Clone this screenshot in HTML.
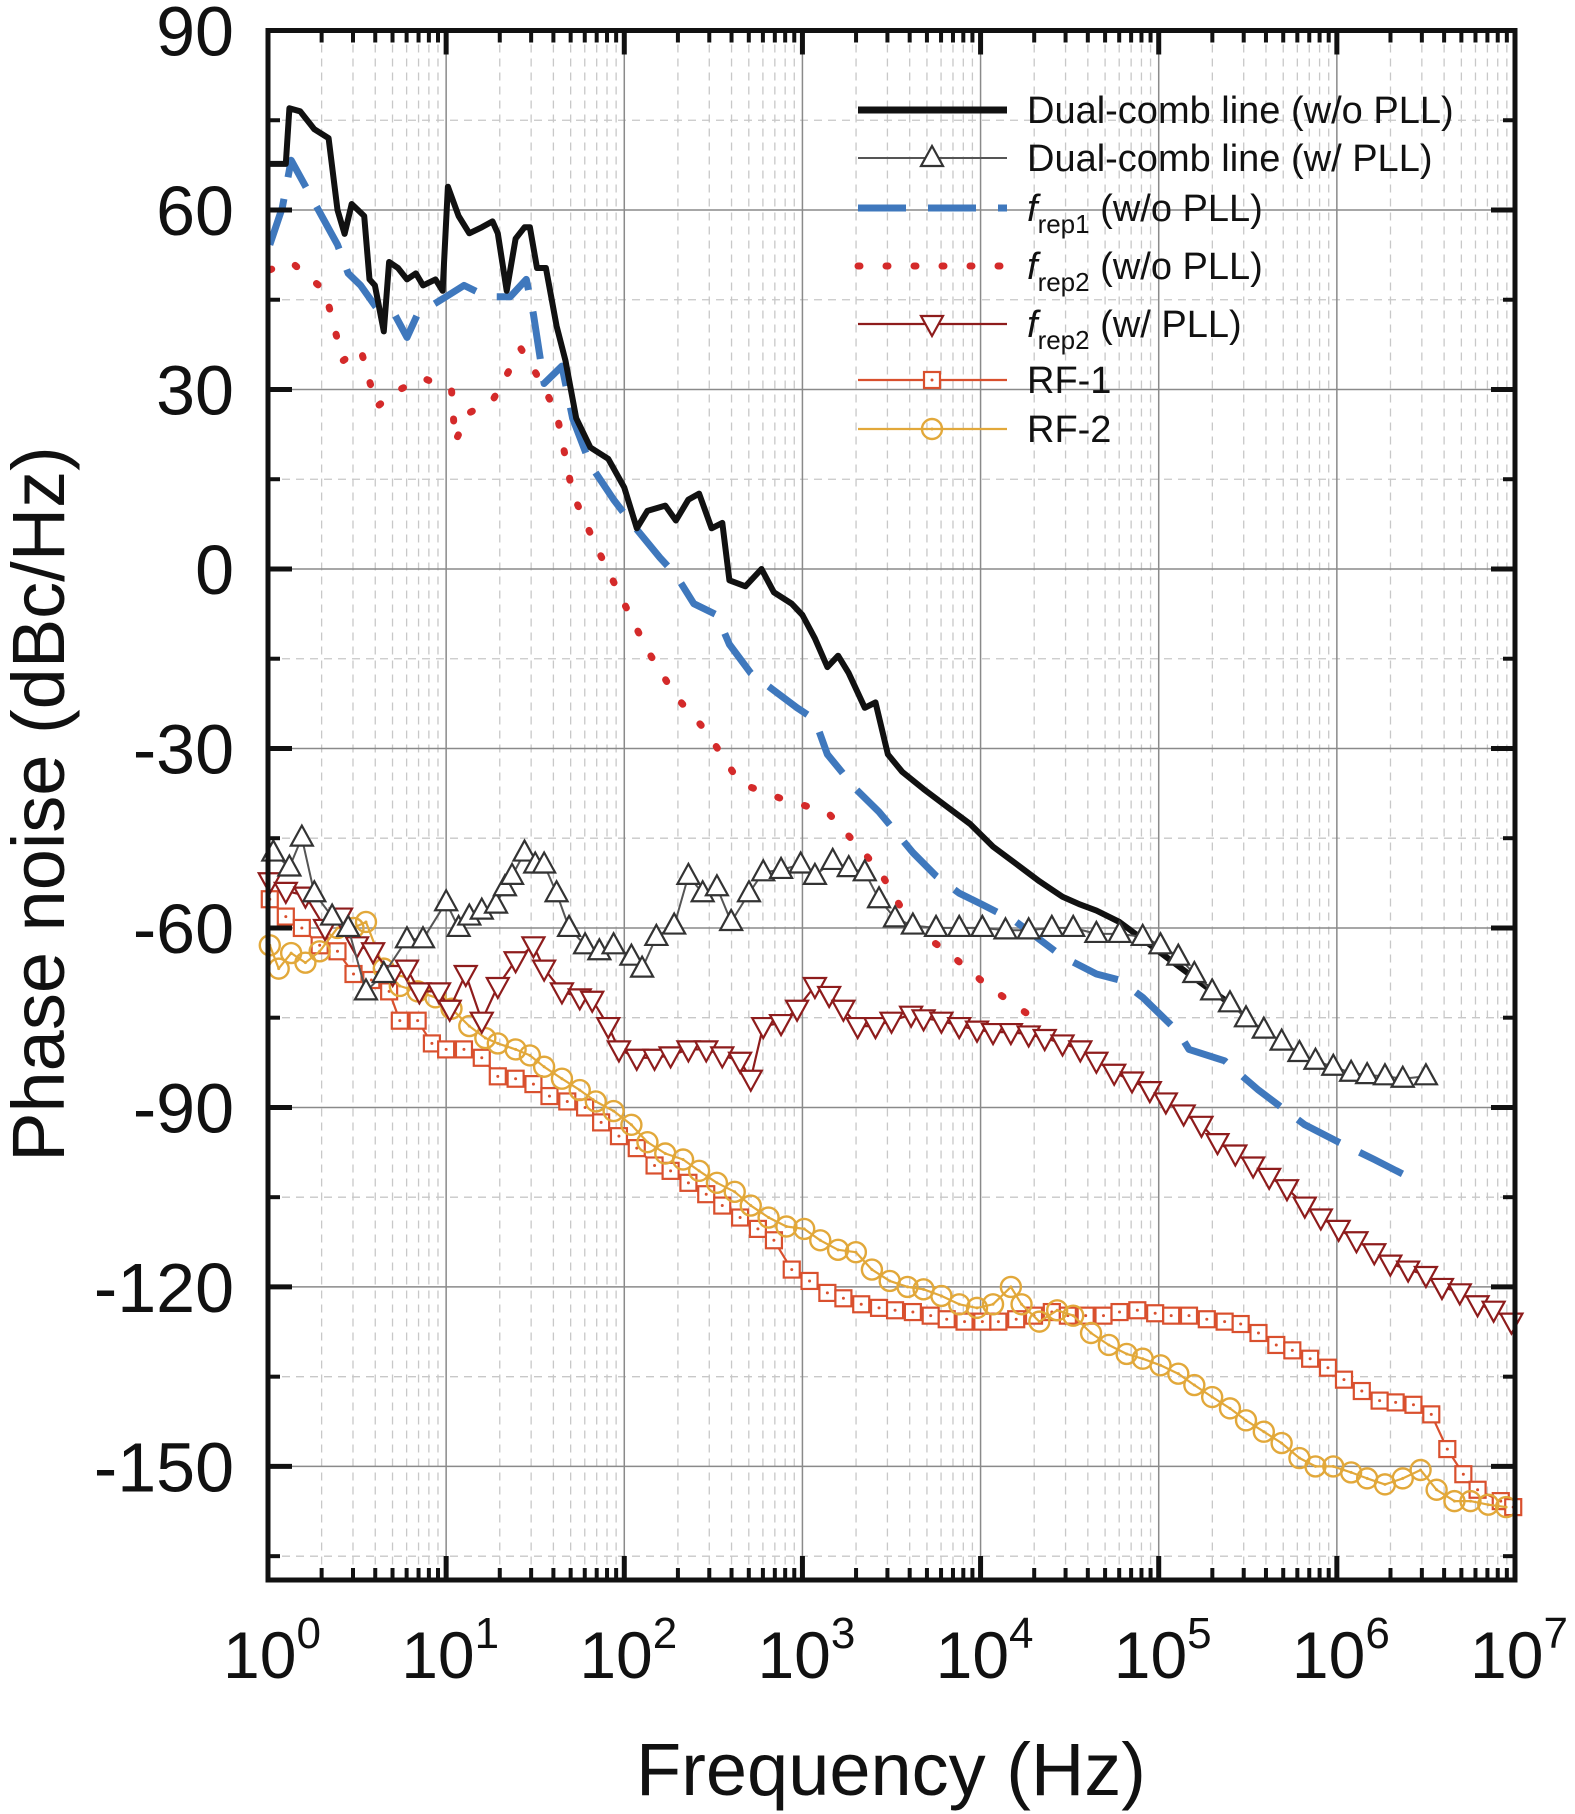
<!DOCTYPE html>
<html><head><meta charset="utf-8"><style>
html,body{margin:0;padding:0;background:#fff}
svg{display:block}
text{font-family:"Liberation Sans",Arial,sans-serif;fill:#111}
</style></head><body>
<svg id="chart" width="1575" height="1814" viewBox="0 0 1575 1814" xmlns="http://www.w3.org/2000/svg">
<g id="grid"></g>
<g id="series"></g>
<g id="axes"></g>
<g id="legend"></g>
<text x="891" y="1795" font-size="74" text-anchor="middle">Frequency (Hz)</text>
<text transform="translate(64,804) rotate(-90)" font-size="74" text-anchor="middle">Phase noise (dBc/Hz)</text>
</svg>
<script>
// ---- data (log10 frequency, dBc/Hz) ----
const dcNoPllX=[0.01,0.10,0.12,0.18,0.26,0.34,0.39,0.43,0.47,0.54,0.57,0.60,0.65,0.68,0.73,0.78,0.83,0.87,0.94,0.98,1.01,1.07,1.13,1.20,1.26,1.29,1.34,1.39,1.44,1.47,1.51,1.56,1.62,1.67,1.73,1.81,1.91,2.00,2.07,2.13,2.23,2.29,2.36,2.42,2.49,2.55,2.59,2.68,2.77,2.84,2.94,3.00,3.07,3.14,3.20,3.26,3.35,3.41,3.48,3.56,3.68,3.81,3.94,4.07,4.20,4.33,4.46,4.56,4.65,4.78,4.91,5.04,5.17,5.30,5.40];
const dcNoPllY=[67.7,67.7,77.0,76.5,73.5,72,60,56,61,59,48.4,47.4,39.7,51.3,50.3,48.4,49.4,47.4,48.4,46.5,63.9,59,56.1,57.1,58.1,56.1,46.5,55.2,57.1,57.1,50.3,50.3,40.6,34.8,25.2,20.3,18.4,13.6,6.8,9.7,10.6,8.1,11.6,12.6,6.8,7.7,-1.9,-2.9,0,-3.9,-5.8,-7.7,-11.6,-16.4,-14.5,-17.4,-23.2,-22.3,-31,-33.9,-36.8,-39.7,-42.6,-46.4,-49.3,-52.2,-54.8,-56.1,-57.1,-59,-61.9,-64.8,-67.7,-70.6,-72.6];
const rep1X=[0.01,0.08,0.13,0.39,0.45,0.52,0.61,0.71,0.78,0.84,1.00,1.10,1.23,1.36,1.45,1.49,1.55,1.65,1.71,1.81,1.94,2.04,2.20,2.29,2.39,2.52,2.59,2.71,2.84,2.97,3.07,3.14,3.30,3.43,3.62,3.75,3.88,4.01,4.20,4.33,4.46,4.65,4.78,4.91,5.11,5.17,5.37,5.56,5.82,6.01,6.21,6.40];
const rep1Y=[54.2,60.4,68.3,54.2,49.4,47.4,43.6,42.6,38.7,42.6,45.5,47.4,45.5,45.5,48.4,42.6,31,33.9,25.2,17.4,11.6,7.7,1.9,-1,-5.8,-7.7,-12.6,-17.4,-20.3,-23.2,-25.2,-31,-36.8,-40.6,-47.4,-51.3,-54.2,-56.1,-59,-61.9,-64.8,-67.7,-68.7,-71.6,-77.4,-80.3,-82.2,-87.1,-92.9,-95.8,-98.7,-101.6];
const rep2X=[0.01,0.13,0.32,0.42,0.52,0.61,0.74,0.87,1.03,1.05,1.13,1.26,1.42,1.52,1.62,1.71,1.84,2.00,2.13,2.29,2.46,2.65,2.91,3.14,3.43,3.62,3.81,4.04,4.27];
const rep2Y=[50,51.3,46.5,34.8,36.8,27.1,30,31.9,30,21.3,26.1,28.1,36.8,31.9,26.1,12.6,3.9,-5.8,-13.6,-21.3,-27.1,-35.8,-38.7,-40.6,-50.3,-60,-63.9,-69.7,-74.5];
const dcPllX=[0.03,0.12,0.19,0.26,0.36,0.45,0.55,0.65,0.78,0.87,1.00,1.07,1.13,1.20,1.28,1.33,1.37,1.44,1.50,1.55,1.62,1.69,1.78,1.86,1.94,2.04,2.10,2.18,2.28,2.36,2.44,2.52,2.60,2.70,2.78,2.88,2.99,3.07,3.17,3.26,3.35,3.43,3.52,3.62,3.75,3.88,4.01,4.14,4.27,4.40,4.52,4.65,4.78,4.91,5.01,5.11,5.20,5.30,5.40,5.49,5.59,5.69,5.79,5.88,5.98,6.08,6.17,6.27,6.37,6.50];
const dcPllY=[-47.4,-49.9,-44.9,-54.2,-58.1,-60,-70.6,-67.7,-61.9,-61.9,-55.7,-60,-58.1,-57.1,-56.1,-53.2,-51.3,-47.4,-49.4,-49.4,-54.2,-60,-62.9,-63.9,-62.9,-64.8,-66.8,-61.5,-59.6,-51.3,-54.2,-53.2,-59,-54.2,-50.7,-50.3,-49.4,-51.3,-48.8,-50,-50.7,-55.2,-58.4,-59.6,-60,-60,-60,-60.4,-60.4,-60,-60,-61,-61,-61.5,-62.9,-64.8,-67.7,-70.6,-72.6,-75.1,-77,-79,-80.9,-82.2,-83.2,-84.2,-84.6,-84.8,-85.2,-84.8];
const rep2PllX=[0.01,0.10,0.21,0.32,0.41,0.50,0.59,0.70,0.78,0.85,0.96,1.02,1.11,1.20,1.29,1.39,1.49,1.55,1.65,1.75,1.82,1.91,1.97,2.07,2.17,2.26,2.36,2.46,2.55,2.65,2.71,2.78,2.88,2.97,3.07,3.15,3.23,3.31,3.41,3.50,3.61,3.68,3.78,3.88,3.98,4.07,4.17,4.27,4.36,4.46,4.56,4.65,4.75,4.85,4.95,5.04,5.14,5.24,5.33,5.43,5.53,5.62,5.72,5.82,5.91,6.01,6.11,6.21,6.30,6.40,6.50,6.59,6.69,6.79,6.88,6.98];
const rep2PllY=[-52.2,-53.8,-54.6,-60,-58.1,-62.9,-63.9,-67.7,-66.8,-70.6,-70.6,-73.5,-67.7,-75.5,-69.7,-65.4,-62.9,-66.8,-70.6,-71.6,-72,-76.4,-80.3,-81.7,-81.7,-81.3,-80.3,-80.3,-81.3,-82.2,-85.2,-76.4,-75.9,-73.5,-69.7,-71.2,-73.5,-76.4,-76.4,-75.5,-74.5,-75.1,-75.5,-76.4,-77,-77.4,-77.4,-77.8,-78.4,-79.3,-80.3,-82.2,-84.2,-85.5,-87.1,-89,-91,-92.9,-95.8,-97.7,-99.7,-101.6,-103.5,-106.4,-108.4,-110.3,-112.2,-114.2,-116.1,-117.1,-118,-120,-120.9,-122.9,-123.8,-125.8];
const rf1X=[0.01,0.10,0.19,0.29,0.39,0.48,0.58,0.68,0.74,0.84,0.92,1.00,1.10,1.20,1.29,1.39,1.49,1.58,1.68,1.78,1.87,1.97,2.07,2.17,2.26,2.36,2.46,2.55,2.65,2.75,2.84,2.94,3.04,3.14,3.23,3.33,3.43,3.52,3.62,3.72,3.81,3.91,4.01,4.10,4.20,4.30,4.40,4.49,4.59,4.69,4.78,4.88,4.98,5.07,5.17,5.27,5.37,5.46,5.56,5.66,5.75,5.85,5.95,6.04,6.14,6.24,6.33,6.43,6.53,6.62,6.71,6.79,6.92,6.99];
const rf1Y=[-55.2,-58.1,-60,-62.9,-63.9,-67.7,-68.7,-70.6,-75.5,-75.5,-79.3,-80.3,-80.3,-81.7,-84.8,-85.2,-86.1,-88.1,-89,-90,-92.5,-94.8,-96.8,-99.7,-100.6,-102.6,-104.5,-106.4,-108.4,-110.3,-112.2,-117.1,-119,-121,-121.9,-122.9,-123.5,-123.9,-124.2,-124.8,-125.4,-125.8,-125.8,-125.8,-125.4,-124.8,-124.2,-124.8,-124.8,-124.8,-124.2,-123.9,-124.4,-124.8,-124.8,-125.4,-125.8,-126.2,-127.7,-129.7,-130.6,-132,-133.5,-135.5,-137.4,-139,-139.3,-139.7,-141.3,-147.1,-151.3,-153.9,-155.8,-156.8];
const rf2X=[0.01,0.06,0.13,0.21,0.29,0.39,0.48,0.55,0.65,0.74,0.84,0.94,1.03,1.13,1.22,1.29,1.39,1.47,1.55,1.65,1.75,1.84,1.94,2.04,2.13,2.23,2.33,2.42,2.52,2.62,2.71,2.81,2.91,3.01,3.10,3.20,3.30,3.39,3.49,3.59,3.68,3.78,3.88,3.98,4.07,4.17,4.23,4.33,4.43,4.52,4.62,4.72,4.82,4.91,5.01,5.11,5.20,5.30,5.40,5.49,5.59,5.69,5.79,5.88,5.98,6.08,6.17,6.27,6.37,6.47,6.56,6.66,6.75,6.85,6.95];
const rf2Y=[-62.9,-66.8,-64.2,-65.8,-63.9,-60,-60,-59,-66.8,-69.7,-70.6,-71.6,-73.5,-76.4,-78.4,-79.3,-80.3,-81.3,-83.2,-85.2,-87.1,-89,-90.6,-92.9,-95.8,-97.7,-98.7,-100.6,-102.6,-104.1,-106.4,-108.4,-109.9,-110.3,-112.2,-113.8,-114.2,-117.1,-119,-120,-120.4,-121.5,-122.9,-123.5,-122.9,-120,-122.9,-125.8,-123.9,-124.8,-127.7,-129.7,-131.2,-132,-133.1,-134.5,-136.4,-138.4,-140.3,-142.3,-144.2,-146.1,-148.6,-150,-150,-151,-152,-153,-152,-150.6,-153.9,-155.8,-155.8,-156.4,-156.8];
const yTicks=[90,60,30,0,-30,-60,-90,-120,-150];
const xDecades=[0,1,2,3,4,5,6,7];
const legendLabels=["Dual-comb line (w/o PLL)","Dual-comb line (w/ PLL)","rep1|(w/o PLL)","rep2|(w/o PLL)","rep2|(w/ PLL)","RF-1","RF-2"];

const NS="http://www.w3.org/2000/svg";
const X0=268,X1=1515,YTOP=30.5,YBOT=1580,DEC=(X1-X0)/7,DB=5.983;
const sx=l=>X0+l*DEC;
const sy=v=>YTOP+(90-v)*DB;
function mk(tag,attrs,parent){const e=document.createElementNS(NS,tag);for(const k in attrs)e.setAttribute(k,attrs[k]);parent.appendChild(e);return e;}
const grid=document.getElementById('grid'),axes=document.getElementById('axes'),ser=document.getElementById('series'),leg=document.getElementById('legend');

// grid
for(let d=0;d<7;d++){for(let m=2;m<=9;m++){const x=sx(d+Math.log10(m));
 const g=mk('line',{x1:x,x2:x,y1:YTOP,y2:YBOT,stroke:'#c8c8c8','stroke-width':1.3,'stroke-dasharray':'8,6'},grid);
 }}
for(let v=75;v>-170;v-=30){const y=sy(v);
 const g=mk('line',{x1:X0,x2:X1,y1:y,y2:y,stroke:'#c8c8c8','stroke-width':1.3,'stroke-dasharray':'8,6'},grid);
 }
xDecades.forEach(d=>{if(d>0&&d<7){const x=sx(d);const g=mk('line',{x1:x,x2:x,y1:YTOP,y2:YBOT,stroke:'#8a8a8a','stroke-width':1.5},grid);
 }});
yTicks.forEach(v=>{if(v<90){const y=sy(v);const g=mk('line',{x1:X0,x2:X1,y1:y,y2:y,stroke:'#8a8a8a','stroke-width':1.5},grid);
 }});

// series helpers
function pts(xs,ys){return xs.map((l,i)=>sx(l).toFixed(1)+','+sy(ys[i]).toFixed(1)).join(' ');}
function line(xs,ys,st,name){const p=mk('polyline',Object.assign({points:pts(xs,ys),fill:'none','stroke-linejoin':'round'},st),ser);
 return p;}
function marker(type,cx,cy,col,parent){let e;
 if(type==='tri'){e=mk('polygon',{points:`${cx},${cy-12} ${cx+11},${cy+8} ${cx-11},${cy+8}`,fill:'#fff',stroke:col,'stroke-width':2.2},parent);}
 else if(type==='tridown'){e=mk('polygon',{points:`${cx},${cy+12} ${cx+11},${cy-8} ${cx-11},${cy-8}`,fill:'#fff',stroke:col,'stroke-width':2.2},parent);}
 else if(type==='sq'){e=mk('rect',{x:cx-8,y:cy-8,width:16,height:16,fill:'#fff',stroke:col,'stroke-width':2.2},parent);mk('circle',{cx:cx,cy:cy,r:1.5,fill:col},parent);}
 else {e=mk('circle',{cx:cx,cy:cy,r:10,fill:'none',stroke:col,'stroke-width':2.4},parent);mk('circle',{cx:cx,cy:cy,r:1.5,fill:col},parent);}
 return e;}
function markers(xs,ys,type,col,name){xs.forEach((l,i)=>{const m=marker(type,sx(l),sy(ys[i]),col,ser);
 });}

line(rf1X,rf1Y,{stroke:'#d9502e','stroke-width':2.2},'rf1-line');
markers(rf1X,rf1Y,'sq','#d9502e','rf1-marker');
line(rf2X,rf2Y,{stroke:'#e2a83a','stroke-width':2.2},'rf2-line');
markers(rf2X,rf2Y,'circ','#e2a83a','rf2-marker');
line(rep2PllX,rep2PllY,{stroke:'#8e1c1c','stroke-width':2.2},'frep2-pll-line');
markers(rep2PllX,rep2PllY,'tridown','#8e1c1c','frep2-pll-marker');
line(rep2X,rep2Y,{stroke:'#d42a2a','stroke-width':7,'stroke-dasharray':'2,26','stroke-linecap':'round'},'frep2-no-pll-line');
line(rep1X,rep1Y,{stroke:'#3f78bd','stroke-width':7,'stroke-dasharray':'48,22'},'frep1-no-pll-line');
line(dcNoPllX,dcNoPllY,{stroke:'#111','stroke-width':6},'dual-comb-no-pll-line');
line(dcPllX,dcPllY,{stroke:'#555','stroke-width':2},'dual-comb-pll-line');
markers(dcPllX,dcPllY,'tri','#333','dual-comb-pll-marker');

// axes frame & ticks
const fr=mk('rect',{x:X0,y:YTOP,width:X1-X0,height:YBOT-YTOP,fill:'none',stroke:'#111','stroke-width':5},axes);

for(let d=0;d<7;d++){for(let m=2;m<=9;m++){const x=sx(d+Math.log10(m));
 mk('line',{x1:x,x2:x,y1:YBOT,y2:YBOT-12,stroke:'#111','stroke-width':4},axes);
 mk('line',{x1:x,x2:x,y1:YTOP,y2:YTOP+12,stroke:'#111','stroke-width':4},axes);}}
xDecades.forEach(d=>{const x=sx(d);
 mk('line',{x1:x,x2:x,y1:YBOT,y2:YBOT-24,stroke:'#111','stroke-width':5},axes);
 mk('line',{x1:x,x2:x,y1:YTOP,y2:YTOP+24,stroke:'#111','stroke-width':5},axes);
 const t=mk('text',{x:x+4,y:1678,'font-size':66,'text-anchor':'middle'},axes);
 
 t.textContent='10';const s=mk('tspan',{dy:-30,'font-size':44},t);s.textContent=String(d);});
for(let v=75;v>-170;v-=30){const y=sy(v);
 mk('line',{x1:X0,x2:X0+12,y1:y,y2:y,stroke:'#111','stroke-width':4},axes);
 mk('line',{x1:X1,x2:X1-12,y1:y,y2:y,stroke:'#111','stroke-width':4},axes);}
yTicks.forEach(v=>{const y=sy(v);
 mk('line',{x1:X0,x2:X0+24,y1:y,y2:y,stroke:'#111','stroke-width':5},axes);
 mk('line',{x1:X1,x2:X1-24,y1:y,y2:y,stroke:'#111','stroke-width':5},axes);
 const t=mk('text',{x:234,y:y+25,'font-size':70,'text-anchor':'end'},axes);
 t.textContent=String(v);});

// legend
const legY=[110,158,208,266,324,380,429];
const legStyle=[
 {stroke:'#111','stroke-width':7},
 {stroke:'#555','stroke-width':2},
 {stroke:'#3f78bd','stroke-width':7,'stroke-dasharray':'48,22'},
 {stroke:'#d42a2a','stroke-width':7,'stroke-dasharray':'2,26','stroke-linecap':'round'},
 {stroke:'#8e1c1c','stroke-width':2.2},
 {stroke:'#d9502e','stroke-width':2.2},
 {stroke:'#e2a83a','stroke-width':2.2}];
const legMk=[null,['tri','#333'],null,null,['tridown','#8e1c1c'],['sq','#d9502e'],['circ','#e2a83a']];
legendLabels.forEach((lab,i)=>{const y=legY[i];
 const g=mk('g',{},leg);
 mk('line',Object.assign({x1:858,x2:1007,y1:y,y2:y},legStyle[i]),g);
 if(legMk[i])marker(legMk[i][0],932,y,legMk[i][1],g);
 const t=mk('text',{x:1027,y:y+13,'font-size':38},g);
 if(lab.indexOf('|')>=0){const [sub,rest]=lab.split('|');
  const f=mk('tspan',{'font-style':'italic'},t);f.textContent='f';
  const s=mk('tspan',{dy:12,'font-size':26},t);s.textContent=sub;
  const r=mk('tspan',{dy:-12},t);r.textContent='  '+rest;r.setAttribute('xml:space','preserve');}
 else t.textContent=lab;});
</script>
</body></html>
